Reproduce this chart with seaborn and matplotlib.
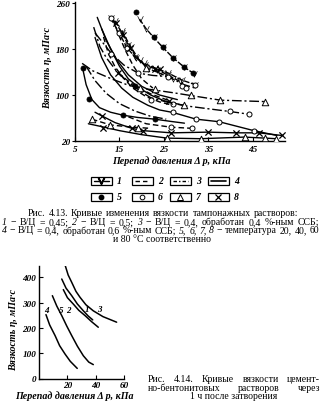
import matplotlib
matplotlib.use("Agg")
import numpy as np
import pandas as pd
import matplotlib.pyplot as plt
import seaborn as sns
from matplotlib.patches import Rectangle

# ---------------- Fig. 4.13: viscosity vs pressure drop ----------------
# Composition codes: 1 - W/C 0.45, 2 - W/C 0.5, 3 - W/C 0.4 + 0.4 % SSB, 4 - W/C 0.4 + 0.6 % SSB
k1_a_dp = [19.5, 21.0, 22.7, 24.7, 27.0, 29.6, 31.8]
k1_a_eta = [232, 215, 200, 183, 165, 148, 137]
k1_b_dp = [13.0, 14.9, 16.7, 18.5, 20.5, 23.0, 26.0, 29.0, 32.0]
k1_b_eta = [234, 208, 182, 166, 155, 147, 138, 126, 118]
k1_c_dp = [15.5, 17.5, 19.5, 21.5, 24.0, 27.0]
k1_c_eta = [212, 184, 160, 146, 138, 128]
k1_d_dp = [14.0, 15.5, 17.0, 18.8, 20.7, 23.5, 26.0, 28.5]
k1_d_eta = [229, 208, 187, 165, 152, 144, 134, 124]

k2_a_dp = [13.5, 14.8, 16.3, 18.0, 20.0, 22.5]
k2_a_eta = [232, 205, 178, 152, 128, 112]
k2_b_dp = [11.4, 12.5, 14.0, 15.8, 18.0, 21.0, 24.0, 27.0]
k2_b_eta = [201, 172, 149, 130, 112, 97, 88, 82]
k2_c_dp = [8.8, 12.9, 16.0, 19.2, 22.0]
k2_c_eta = [58, 48, 45.5, 43.4, 42]
k2_d_dp = [14.7, 16.5, 18.5, 22.0, 26.2]
k2_d_eta = [139, 127, 116, 102, 90]
k2_e_dp = [17.0, 21.0, 26.6, 31.4]
k2_e_eta = [62, 50, 44, 42]

k3_a_dp = [6.6, 9.0, 13.2, 17.0, 19.5, 22.5, 27.0, 31.1, 37.7, 47.8]
k3_a_eta = [155, 142, 128, 117, 112, 109, 104, 99, 91, 88.5]
k3_b_dp = [9.5, 13.2, 16.0, 19.2, 22.5, 25.9, 29.5, 32.0]
k3_b_eta = [208, 172, 152, 138, 134, 132, 118, 112]
k3_c_dp = [9.2, 10.6, 12.1, 14.4, 17.0, 20.0, 22.1, 26.0, 30.0, 35.0, 39.8, 44.0]
k3_c_eta = [218, 184, 164, 141, 122, 105, 95, 87, 81, 76, 71.3, 66.7]
k3_d_dp = [7.5, 9.5, 12.0, 15.0, 18.5, 22.0, 25.5]
k3_d_eta = [150, 125, 103, 85, 72, 63, 58]

k4_a_dp = [6.7, 7.5, 8.8, 10.5, 13.0, 15.7, 19.0, 22.9, 26.6, 29.6]
k4_a_eta = [147, 118, 92, 78, 70, 65, 61, 58, 54, 51]
k4_b_dp = [9.5, 11.0, 13.0, 15.5, 18.0, 21.4, 24.0, 27.0, 32.2, 37.4, 45.2, 50.4]
k4_b_eta = [200, 165, 135, 112, 96, 82, 74, 69.6, 58, 53.5, 38, 29.6]
k4_c_dp = [9.5, 11.0, 14.0, 17.7, 20.3, 26.6, 34.8, 41.1, 46.3, 51.5]
k4_c_eta = [70, 63.8, 52, 42.2, 38, 34.2, 35.4, 34.2, 34.2, 29.6]
k4_d_dp = [8.0, 11.0, 15.0, 20.0, 25.7, 33.3, 43.1, 47.8, 50.2]
k4_d_eta = [50, 45, 38, 31, 25, 24, 26.8, 25, 24]
k4_e_dp = [11.0, 13.0, 15.0, 17.0, 19.5, 22.0, 25.0, 29.4]
k4_e_eta = [215, 180, 150, 128, 112, 100, 90, 82]
k4_f_dp = [10.0, 12.0, 14.5, 17.0, 20.0, 24.0, 28.0]
k4_f_eta = [235, 195, 160, 135, 115, 100, 92]

# Measured points by temperature: 5 - 20 C, 6 - 40 C, 7 - 60 C, 8 - 80 C
t20_dp = [18.8, 22.7, 24.7, 27.0, 29.6, 31.6, 18.4, 6.7, 8.2, 15.7, 22.9]
t20_eta = [245, 200, 183, 165, 148, 139, 116, 147, 93.5, 65, 58]
t40_dp = [13.0, 14.9, 16.7, 29.0, 30.0, 32.0, 22.0, 27.0, 13.2, 19.2, 25.9,
          39.8, 44.0, 27.0, 32.2, 37.4, 45.2, 26.6, 31.4]
t40_eta = [234, 208, 182, 115, 113, 118, 92, 84, 172, 138, 132,
           71.3, 66.7, 69.6, 58, 53.5, 38, 44, 42]
t60_dp = [20.9, 8.8, 12.9, 19.2, 22.9, 31.1, 37.7, 47.8, 25.7, 33.3, 43.1,
          47.8, 50.2, 19.5, 29.4]
t60_eta = [147, 58, 48, 43.4, 110.6, 99.2, 91.1, 88.4, 25, 24, 26.8,
           25.5, 24, 112, 82]
t80_dp = [14.3, 15.8, 17.4, 23.0, 24.0, 14.7, 26.2, 11.0, 17.7, 20.3, 26.6,
          34.8, 41.1, 46.3, 51.5, 11.4]
t80_eta = [226, 204, 182, 146, 145, 139, 90, 63.8, 42.2, 38, 34.2,
           35.4, 34.2, 34.2, 29.6, 42.2]

x1_ticks = [5, 15, 25, 35, 45]
y1_ticks = [20, 100, 180, 260]

# ---------------- Fig. 4.14: cement-bentonite slurries ----------------
b1_dp = [16.0, 19.0, 23.0, 27.0, 31.2, 34.5, 37.8]
b1_eta = [394, 358, 328, 295, 268, 248, 232]
b2_dp = [17.1, 20.0, 24.1, 28.0, 32.4, 37.0, 41.7]
b2_eta = [352, 320, 295, 270, 249, 225, 203]
b3_dp = [18.3, 20.5, 23.0, 26.0, 28.8, 33.0, 38.2, 45.0, 54.6]
b3_eta = [450, 410, 381, 345, 322, 292, 268, 245, 223]
b4_dp = [4.9, 7.5, 11.3, 14.5, 18.3, 22.0, 26.9]
b4_eta = [253, 212, 170, 130, 97, 68, 40]
b5_dp = [9.4, 12.5, 16.0, 19.5, 23.0, 27.0, 31.2, 35.0, 38.2]
b5_eta = [328, 287, 249, 208, 170, 128, 90, 65, 55]
b_labels = ["4", "5", "2", "1", "3"]
b_label_dp = [5.4, 15.5, 20.6, 33.6, 42.4]
b_label_eta = [272, 272, 272, 275, 275]
x2_ticks = [20, 40, 60]
y2_ticks = [0, 100, 200, 300, 400]

sns.set_theme(style="white")
plt.rcParams["font.family"] = ["Liberation Serif", "DejaVu Serif"]
plt.rcParams["mathtext.fontset"] = "stix"

W, H = 322, 406
fig = plt.figure(figsize=(W / 100, H / 100), dpi=100)
fig.patch.set_facecolor("white")


def fx(px):
    return px / W


def fy(py):
    return 1 - py / H


BI = dict(fontweight="bold", fontstyle="italic", color="black")
TICK = 6.6

# ---- top chart ----
ax1 = fig.add_axes([fx(75), fy(142), fx(285) - fx(75), fy(3) - fy(142)])
ax1.set_facecolor("white")

curves = {
    "k1a": ("1", k1_a_dp, k1_a_eta), "k1b": ("1", k1_b_dp, k1_b_eta),
    "k1c": ("1", k1_c_dp, k1_c_eta), "k1d": ("1", k1_d_dp, k1_d_eta),
    "k2a": ("2", k2_a_dp, k2_a_eta), "k2b": ("2", k2_b_dp, k2_b_eta),
    "k2c": ("2", k2_c_dp, k2_c_eta), "k2d": ("2", k2_d_dp, k2_d_eta),
    "k2e": ("2", k2_e_dp, k2_e_eta),
    "k3a": ("3", k3_a_dp, k3_a_eta), "k3b": ("3", k3_b_dp, k3_b_eta),
    "k3c": ("3", k3_c_dp, k3_c_eta), "k3d": ("3", k3_d_dp, k3_d_eta),
    "k4a": ("4", k4_a_dp, k4_a_eta), "k4b": ("4", k4_b_dp, k4_b_eta),
    "k4c": ("4", k4_c_dp, k4_c_eta), "k4d": ("4", k4_d_dp, k4_d_eta),
    "k4e": ("4", k4_e_dp, k4_e_eta), "k4f": ("4", k4_f_dp, k4_f_eta),
}
frames = []
for cid, (comp, dp, eta) in curves.items():
    frames.append(pd.DataFrame({"curve": cid, "comp": comp, "dp": dp, "eta": eta}))
lines_df = pd.concat(frames, ignore_index=True)

comp_dashes = {"1": (4, 1.2), "2": (4, 2.2), "3": (7, 2, 1.5, 2), "4": ""}
sns.lineplot(data=lines_df, x="dp", y="eta", style="comp", units="curve",
             estimator=None, sort=False, dashes=comp_dashes, color="black",
             lw=1.0, legend=False, ax=ax1)

# V ticks along composition-1 curves
v_df = lines_df[lines_df["comp"] == "1"]
sns.scatterplot(x=v_df["dp"], y=v_df["eta"], marker=r"$\vee$", s=22,
                color="black", linewidth=0, ax=ax1, zorder=3)

sns.scatterplot(x=t20_dp, y=t20_eta, marker="o", s=13, color="black",
                edgecolor="black", linewidth=0.6, ax=ax1, zorder=4)
sns.scatterplot(x=t40_dp, y=t40_eta, marker="o", s=13, color="white",
                edgecolor="black", linewidth=0.7, ax=ax1, zorder=4)
sns.scatterplot(x=t60_dp, y=t60_eta, marker="^", s=22, color="white",
                edgecolor="black", linewidth=0.7, ax=ax1, zorder=4)
sns.scatterplot(x=t80_dp, y=t80_eta, marker="x", s=20, color="black",
                linewidth=0.9, ax=ax1, zorder=4)

ax1.set_xlim(5, 52.2)
ax1.set_ylim(20, 261.7)
ax1.set_xticks(x1_ticks)
ax1.set_yticks(y1_ticks)
ax1.set_xlabel("")
ax1.set_ylabel("")
for s in ["top", "right"]:
    ax1.spines[s].set_visible(False)
for s in ["left", "bottom"]:
    ax1.spines[s].set_color("black")
    ax1.spines[s].set_linewidth(1.0)
ax1.tick_params(axis="x", direction="in", length=3, width=0.8, pad=3,
                bottom=True, colors="black")
ax1.tick_params(axis="y", direction="out", length=2.5, width=0.8, pad=1,
                left=True, colors="black")
for lab in ax1.get_xticklabels() + ax1.get_yticklabels():
    lab.set_fontsize(TICK)
    lab.set_fontweight("bold")
    lab.set_fontstyle("italic")

fig.text(fx(48), fy(68), "Вязкость η, мПа·с", rotation=90, ha="center",
         va="center", fontsize=7.2, **BI)
fig.text(fx(171), fy(161), "Перепад давления Δ p, кПа", ha="center",
         va="center", fontsize=7.2, **BI)

# ---- legend boxes ----
lg = fig.add_axes([0, fy(206), 1, fy(172) - fy(206)])
lg.set_xlim(0, W)
lg.set_ylim(206, 172)
lg.axis("off")
box_x = [91, 132, 170, 208]
row_y = [181.5, 198]
box_w, box_h = 21, 8
for r, yc in enumerate(row_y):
    for i, x0 in enumerate(box_x):
        lg.add_patch(Rectangle((x0, yc - box_h / 2), box_w, box_h, fill=False,
                               ec="black", lw=0.9))
        num = str(r * 4 + i + 1)
        lg.text(x0 + box_w + 5, yc, num, ha="left", va="center",
                fontsize=7.0, fontstyle="italic", fontweight="bold", color="black")
        xc = x0 + box_w / 2
        if r == 0:
            if i == 0:
                lg.plot([x0 + 3, x0 + 8], [yc, yc], color="black", lw=1.0)
                lg.plot([x0 + 13, x0 + 18], [yc, yc], color="black", lw=1.0)
                lg.plot([xc], [yc], marker=r"$\vee$", ms=4.5, color="black")
            elif i == 1:
                lg.plot([x0 + 3, x0 + 18], [yc, yc], color="black", lw=1.0,
                        dashes=(3.2, 2.2))
            elif i == 2:
                lg.plot([x0 + 3, x0 + 18], [yc, yc], color="black", lw=1.0,
                        dashes=(2.5, 1.5, 1, 1.5))
            else:
                lg.plot([x0 + 3, x0 + 18], [yc, yc], color="black", lw=1.2)
        else:
            if i == 0:
                lg.plot([xc], [yc], marker="o", ms=3.2, color="black")
            elif i == 1:
                lg.plot([xc], [yc], marker="o", ms=3.4, mfc="white",
                        mec="black", mew=0.7)
            elif i == 2:
                lg.plot([xc], [yc], marker="^", ms=4.2, mfc="white",
                        mec="black", mew=0.7)
            else:
                lg.plot([xc], [yc], marker="x", ms=4.2, color="black", mew=0.9)

# ---- captions (justified paragraphs) ----
renderer = fig.canvas.get_renderer()
CAP = 7.0


def justified(words, x_left, x_right, y_px, size=CAP, min_gap=2.3):
    while True:
        arts = []
        for w, it in words:
            t = fig.text(0, fy(y_px), w, ha="left", va="center", fontsize=size,
                         fontstyle="italic" if it else "normal", color="black")
            arts.append(t)
        widths = [a.get_window_extent(renderer).width for a in arts]
        gap = (x_right - x_left - sum(widths)) / max(len(arts) - 1, 1)
        if gap >= min_gap or size < 5:
            break
        for a in arts:
            a.remove()
        size -= 0.1
    x = x_left
    for a, w in zip(arts, widths):
        a.set_x(fx(x))
        x += w + gap


def plain_words(s):
    return [(w, False) for w in s.split()]


justified(plain_words("Рис. 4.13. Кривые изменения вязкости тампонажных растворов:"),
          28, 298, 214)
line2 = [("1", True), ("−", False), ("В/Ц", False), ("=", False), ("0,45;", False),
         ("2", True), ("−", False), ("В/Ц", False), ("=", False), ("0,5;", False),
         ("3", True), ("−", False), ("В/Ц", False), ("=", False), ("0,4,", False),
         ("обработан", False), ("0,4", False), ("%-ным", False), ("ССБ;", False)]
justified(line2, 2, 319, 222.5)
line3 = [("4", True), ("−", False), ("В/Ц", False), ("=", False), ("0,4,", False),
         ("обработан", False), ("0,6", False), ("%-ным", False), ("ССБ;", False),
         ("5,", True), ("6,", True), ("7,", True), ("8", True), ("−", False),
         ("температура", False), ("20,", False), ("40,", False), ("60", False)]
justified(line3, 2, 319, 231)
fig.text(fx(162), fy(239.5), "и 80 °С соответственно", ha="center", va="center",
         fontsize=CAP, color="black")

# ---- bottom chart ----
ax2 = fig.add_axes([fx(39), fy(379.5), fx(124.3) - fx(39), fy(266.7) - fy(379.5)])
ax2.set_facecolor("white")
bdf = pd.concat([
    pd.DataFrame({"curve": "1", "dp": b1_dp, "eta": b1_eta}),
    pd.DataFrame({"curve": "2", "dp": b2_dp, "eta": b2_eta}),
    pd.DataFrame({"curve": "3", "dp": b3_dp, "eta": b3_eta}),
    pd.DataFrame({"curve": "4", "dp": b4_dp, "eta": b4_eta}),
    pd.DataFrame({"curve": "5", "dp": b5_dp, "eta": b5_eta}),
], ignore_index=True)
sns.lineplot(data=bdf, x="dp", y="eta", units="curve", estimator=None,
             sort=False, color="black", lw=1.1, legend=False, ax=ax2)
for lab, xv, yv in zip(b_labels, b_label_dp, b_label_eta):
    ax2.text(xv, yv, lab, ha="center", va="center", fontsize=6.5, **BI)
ax2.set_xlim(0, 60)
ax2.set_ylim(0, 446.7)
ax2.set_xticks(x2_ticks)
ax2.set_yticks(y2_ticks)
ax2.set_xlabel("")
ax2.set_ylabel("")
for s in ["top", "right"]:
    ax2.spines[s].set_visible(False)
for s in ["left", "bottom"]:
    ax2.spines[s].set_color("black")
    ax2.spines[s].set_linewidth(1.0)
ax2.tick_params(axis="both", direction="in", length=3, width=0.8, pad=2,
                bottom=True, left=True, colors="black")
for lab in ax2.get_xticklabels() + ax2.get_yticklabels():
    lab.set_fontsize(TICK)
    lab.set_fontweight("bold")
    lab.set_fontstyle("italic")

fig.text(fx(14), fy(330), "Вязкость η, мПа·с", rotation=90, ha="center",
         va="center", fontsize=7.2, **BI)
fig.text(fx(74), fy(396), "Перепад давления Δ p, кПа", ha="center",
         va="center", fontsize=7.2, **BI)

justified(plain_words("Рис. 4.14. Кривые вязкости цемент-"), 148, 320, 380)
justified(plain_words("но-бентонитовых растворов через"), 148, 320, 388.5)
fig.text(fx(234), fy(397), "1 ч после затворения", ha="center", va="center",
         fontsize=CAP, color="black")

fig.savefig("out.png", dpi=100, facecolor="white")
